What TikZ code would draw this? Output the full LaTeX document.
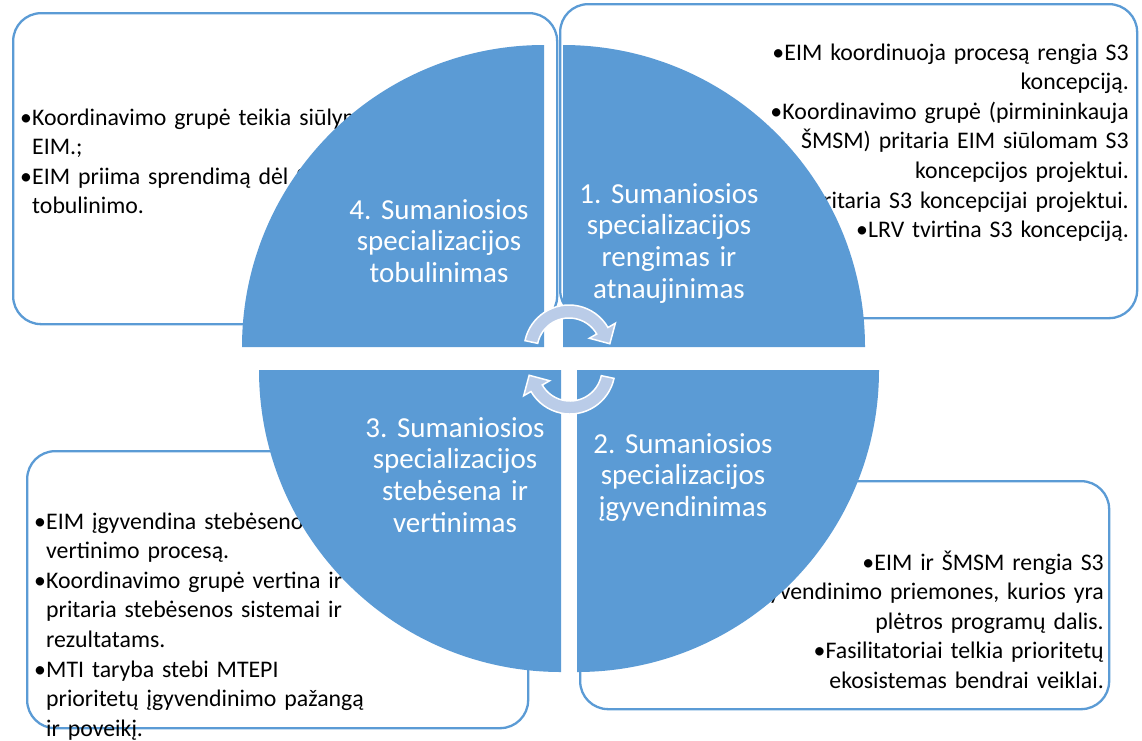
\documentclass[tikz,border=0pt]{standalone}
\usepackage{fontspec}
\setmainfont{Carlito}
\frenchspacing
\definecolor{qblue}{HTML}{5B9BD5}
\definecolor{ablue}{RGB}{186,204,232}
\newcommand\bulmark{\makebox[12pt][l]{•}}
\newcommand\bulind{\hspace*{12pt}}
\tikzset{
  tbox/.style={draw=qblue, line width=2.3pt, fill=white, rounded corners=28pt, inner sep=0pt, anchor=north west},
  quad/.style={fill=qblue},
  circarrow/.style={fill=ablue, draw=white, line width=1.5pt, line join=miter},
  btext/.style={inner sep=0pt, text width=540pt, font=\fontsize{23.8}{29.6}\selectfont},
  qlabel/.style={inner sep=0pt, text width=300pt, align=center, text=white, anchor=base, font=\fontsize{29}{31.8}\selectfont},
}
\begin{document}
\begin{tikzpicture}[x=1pt,y=1pt]
\useasboundingbox (0,0) rectangle (1142,-740);
% text boxes
\node[tbox, minimum width=544pt, minimum height=311pt] (b4) at (12,-12) {};
\node[btext, align=left, anchor=base west] (t4) at (20,-125)
  {\bulmark Koordinavimo grupė teikia siūlymus\\\bulind EIM.;\\\bulmark EIM priima sprendimą dėl S3\\\bulind tobulinimo.};
\node[tbox, minimum width=577pt, minimum height=314pt] (b1) at (559,-3) {};
\node[btext, align=right, anchor=base east] (t1) at (1129,-60)
  {\bulmark EIM koordinuoja procesą rengia S3\\koncepciją.\\\bulmark Koordinavimo grupė (pirmininkauja\\ŠMSM) pritaria EIM siūlomam S3\\koncepcijos projektui.\\\bulmark LRV pritaria S3 koncepcijai projektui.\\\bulmark LRV tvirtina S3 koncepciją.};
\node[tbox, minimum width=501pt, minimum height=277pt] (b3) at (26,-450) {};
\node[btext, align=left, anchor=base west] (t3) at (34,-529)
  {\bulmark EIM įgyvendina stebėsenos ir\\\bulind vertinimo procesą.\\\bulmark Koordinavimo grupė vertina ir\\\bulind pritaria stebėsenos sistemai ir\\\bulind rezultatams.\\\bulmark MTI taryba stebi MTEPI\\\bulind prioritetų įgyvendinimo pažangą\\\bulind ir poveikį.};
\node[tbox, minimum width=529pt, minimum height=228pt] (b2) at (579,-480) {};
\node[btext, align=right, anchor=base east] (t2) at (1104,-570)
  {\bulmark EIM ir ŠMSM rengia S3\\įgyvendinimo priemones, kurios yra\\plėtros programų dalis.\\\bulmark Fasilitatoriai telkia prioritetų\\ekosistemas bendrai veiklai.};
% quadrants
\fill[quad] (544,-347) -- (242,-347) arc[start angle=180, end angle=90, radius=302] -- cycle;
\fill[quad] (563,-347) -- (563,-45) arc[start angle=90, end angle=0, radius=302] -- cycle;
\fill[quad] (561,-370) -- (259,-370) arc[start angle=180, end angle=270, radius=302] -- cycle;
\fill[quad] (577,-370) -- (879,-370) arc[start angle=0, end angle=-90, radius=302] -- cycle;
% labels
\node[qlabel] (l4) at (439,-219) {4. Sumaniosios\\specializacijos\\tobulinimas};
\node[qlabel] (l1) at (669,-203) {1. Sumaniosios\\specializacijos\\rengimas ir\\atnaujinimas};
\node[qlabel] (l3) at (455,-437) {3. Sumaniosios\\specializacijos\\stebėsena ir\\vertinimas};
\node[qlabel] (l2) at (683,-453) {2. Sumaniosios\\specializacijos\\įgyvendinimas};
% circular arrows
\begin{scope}[shift={(569,-350)}]
  \path[circarrow] (168:45) arc[start angle=168, end angle=30, radius=45]
    -- (30:53.5) -- (40.84,6.26) -- (30:23.5) -- (30:32)
    arc[start angle=30, end angle=168, radius=32] -- cycle;
\end{scope}
\begin{scope}[shift={(570,-369)}]
  \path[circarrow] (-12:45) arc[start angle=-12, end angle=-150, radius=45]
    -- (-150:53.5) -- (-40.84,-6.26) -- (-150:23.5) -- (-150:32)
    arc[start angle=-150, end angle=-12, radius=32] -- cycle;
\end{scope}
\end{tikzpicture}
\end{document}
